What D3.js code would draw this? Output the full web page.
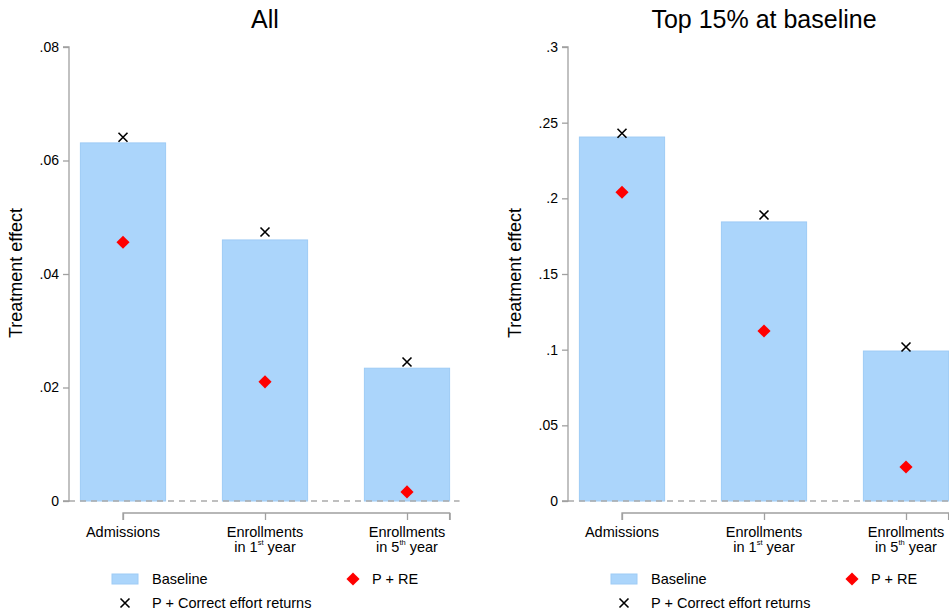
<!DOCTYPE html>
<html><head><meta charset="utf-8">
<script src="https://cdn.jsdelivr.net/npm/d3@7/dist/d3.min.js"></script>
<style>body{margin:0;background:#fff;} svg{display:block;font-family:"Liberation Sans",Arial,sans-serif;}</style>
</head><body>
<svg id="c" width="949" height="612"></svg>
<script>
const categories = ["Admissions", "Enrollments|in 1|st|year", "Enrollments|in 5|th|year"];
const panelTitles = ["All", "Top 15% at baseline"];
const baselineAll = [0.0631, 0.0460, 0.0234];
const preAll = [0.0456, 0.0210, 0.0016];
const correctAll = [0.0641, 0.0474, 0.0245];
const baselineTop = [0.2405, 0.1844, 0.0991];
const preTop = [0.2040, 0.1123, 0.0225];
const correctTop = [0.2430, 0.1890, 0.1018];
const ticksAll = [0, 0.02, 0.04, 0.06, 0.08];
const tickLabelsAll = ["0", ".02", ".04", ".06", ".08"];
const ticksTop = [0, 0.05, 0.1, 0.15, 0.2, 0.25, 0.3];
const tickLabelsTop = ["0", ".05", ".1", ".15", ".2", ".25", ".3"];
const legendLabels = ["Baseline", "P + RE", "P + Correct effort returns"];

const svg = d3.select("#c");
const BAR = "#abd5fb", BARS = "#9ecbf5", RED = "#ff0000", AX = "#a0a0a0";

function panel(ox, title, base, pre, corr, ticks, tlabels, ymax) {
  const g = svg.append("g");
  const axX = ox;
  const x = d3.scaleLinear().domain([1, 2]).range([ox + 54, ox + 196]);
  const y = d3.scaleLinear().domain([0, ymax]).range([501, 47]);
  g.append("text").attr("x", x(2)).attr("y", 28).attr("text-anchor", "middle")
    .attr("font-size", 25).attr("fill", "#000").text(title);
  g.append("text").attr("transform", `translate(${ox - 47},273) rotate(-90)`)
    .attr("text-anchor", "middle").attr("font-size", 18).attr("fill", "#000").text("Treatment effect");
  const bw = x(1.6) - x(1);
  g.selectAll("rect.bar").data(base).enter().append("rect")
    .attr("x", (d, i) => x(i + 1) - bw / 2).attr("y", d => y(d))
    .attr("width", bw).attr("height", d => y(0) - y(d))
    .attr("fill", BAR).attr("stroke", BARS).attr("stroke-width", 1);
  g.append("line").attr("x1", axX).attr("x2", x(3.37)).attr("y1", y(0)).attr("y2", y(0))
    .attr("stroke", "#aaaaaa").attr("stroke-width", 1.3).attr("stroke-dasharray", "6,5");
  const yAxis = d3.axisLeft(y).tickValues(ticks).tickFormat((d, i) => tlabels[i]).tickSize(6).tickPadding(4);
  const ya = g.append("g").attr("transform", `translate(${axX},0)`).call(yAxis);
  ya.select(".domain").attr("stroke", AX).attr("stroke-width", 1.3).attr("d", `M-6,${y(ymax)}H0V${y(0)}H-6`);
  ya.selectAll(".tick line").attr("stroke", AX).attr("stroke-width", 1.3);
  ya.selectAll(".tick text").attr("font-size", 14).attr("fill", "#000").attr("font-family", "Liberation Sans, Arial, sans-serif");
  const xAxis = d3.axisBottom(x).tickValues([1, 2, 3, 3.3]).tickFormat("").tickSize(7);
  const xa = g.append("g").attr("transform", `translate(0,513)`).call(xAxis);
  xa.select(".domain").attr("stroke", AX).attr("stroke-width", 1.3).attr("d", `M${x(1)},7V0H${x(3.3)}V7`);
  xa.selectAll(".tick line").attr("stroke", AX).attr("stroke-width", 1.3);
  categories.forEach((c, i) => {
    const parts = c.split("|");
    const cx = x(i + 1);
    g.append("text").attr("x", cx).attr("y", 537).attr("text-anchor", "middle").attr("font-size", 14.5).text(parts[0]);
    if (parts.length > 1) {
      const t = g.append("text").attr("x", cx).attr("y", 552).attr("text-anchor", "middle").attr("font-size", 14.5);
      t.append("tspan").text(parts[1]);
      t.append("tspan").attr("font-size", 7.5).attr("dy", -7).text(parts[2]);
      t.append("tspan").attr("dy", 7).text("\u00a0" + parts[3]);
    }
  });
  g.selectAll("path.dia").data(pre).enter().append("path")
    .attr("d", d3.symbol(d3.symbolDiamond2, 110)())
    .attr("transform", (d, i) => `translate(${x(i + 1)},${y(d)})`).attr("fill", RED);
  g.selectAll("path.xx").data(corr).enter().append("path")
    .attr("d", "M-4.5,-4.5L4.5,4.5M-4.5,4.5L4.5,-4.5")
    .attr("transform", (d, i) => `translate(${x(i + 1)},${y(d)})`).attr("stroke", "#000").attr("stroke-width", 1.6).attr("fill", "none");
  const lx = ox + 43;
  g.append("rect").attr("x", lx).attr("y", 574).attr("width", 26).attr("height", 10).attr("fill", BAR).attr("stroke", BARS);
  g.append("text").attr("x", lx + 40).attr("y", 584).attr("font-size", 14.5).text(legendLabels[0]);
  g.append("path").attr("d", d3.symbol(d3.symbolDiamond2, 110)()).attr("transform", `translate(${ox + 284},579)`).attr("fill", RED);
  g.append("text").attr("x", ox + 303).attr("y", 584).attr("font-size", 14.5).text(legendLabels[1]);
  g.append("path").attr("d", "M-4.5,-4.5L4.5,4.5M-4.5,4.5L4.5,-4.5").attr("transform", `translate(${lx + 13},603)`)
    .attr("stroke", "#000").attr("stroke-width", 1.6);
  g.append("text").attr("x", lx + 40).attr("y", 608).attr("font-size", 14.5).text(legendLabels[2]);
}

panel(69, panelTitles[0], baselineAll, preAll, correctAll, ticksAll, tickLabelsAll, 0.08);
panel(568, panelTitles[1], baselineTop, preTop, correctTop, ticksTop, tickLabelsTop, 0.3);
</script>
</body></html>
